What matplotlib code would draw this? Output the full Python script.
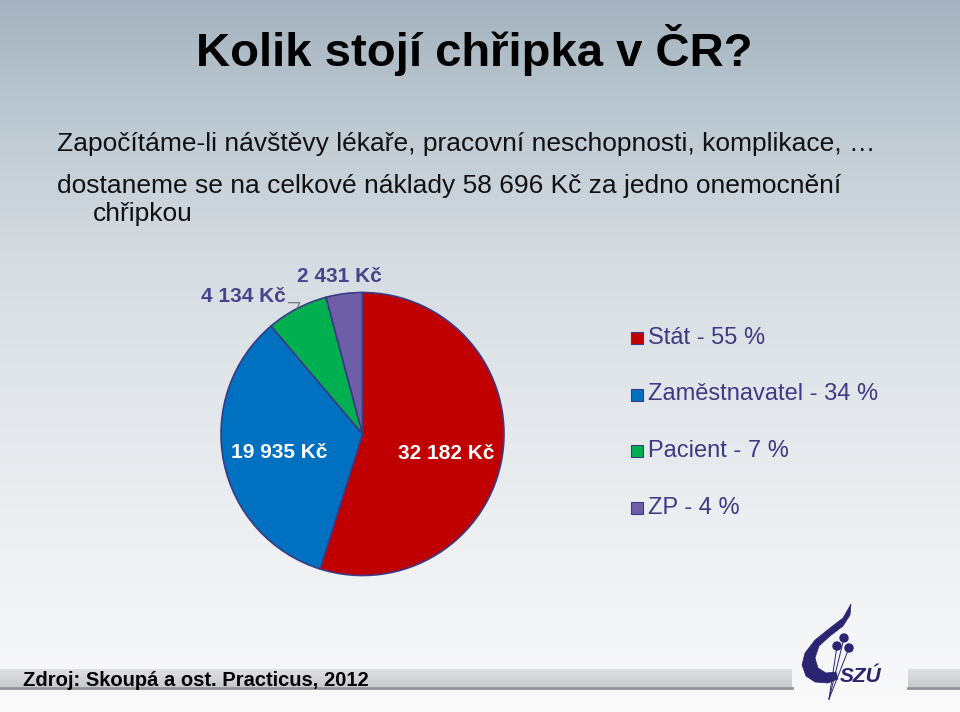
import numpy as np
import matplotlib
matplotlib.use("Agg")
import matplotlib.pyplot as plt
from matplotlib.patches import Rectangle, Circle, Polygon

plt.rcParams['font.family'] = ['Liberation Sans', 'DejaVu Sans']

# data
payers = ["Stát", "Zaměstnavatel", "Pacient", "ZP"]
costs = [32182, 19935, 4134, 2431]
colors = ["#C00000", "#0070C0", "#00B050", "#6E5EA8"]

title = "Kolik stojí chřipka v ČR?"
intro = ["Započítáme-li návštěvy lékaře, pracovní neschopnosti, komplikace, …",
         "dostaneme se na celkové náklady 58 696 Kč za jedno onemocnění",
         "chřipkou"]
source = "Zdroj: Skoupá a ost. Practicus, 2012"

W, H = 960, 712
navy = "#3C3A84"

fig = plt.figure(figsize=(9.6, 7.12), dpi=100)

# background axes in pixel coordinates
bg = fig.add_axes([0, 0, 1, 1])
stops_y = [0, 120, 250, 400, 550, 712]
stops_c = [(164, 179, 191), (189, 201, 210), (212, 219, 225),
           (227, 231, 235), (238, 240, 242), (250, 250, 251)]
ys = np.arange(H)
grad = np.zeros((H, 1, 3))
for c in range(3):
    grad[:, 0, c] = np.interp(ys, stops_y, [s[c] for s in stops_c]) / 255
bg.imshow(grad, extent=(0, W, H, 0), aspect='auto', zorder=0)

# grey band at the bottom
band = np.zeros((18, 1, 3))
for c, (a, b) in enumerate([(222, 200), (224, 203), (227, 206)]):
    band[:, 0, c] = np.linspace(a, b, 18) / 255
for x0, x1 in [(0, 792), (908, W)]:
    bg.imshow(band, extent=(x0, x1, 687, 669), aspect='auto', zorder=1)
    bg.plot([x0, x1], [688, 688], color="#8F9194", lw=2, zorder=2)
bg.set_xlim(0, W)
bg.set_ylim(H, 0)
bg.axis('off')

# texts
bg.text(474, 66, title, fontsize=34, fontweight='bold', ha='center',
        va='baseline', color='black')
bg.text(57, 151, intro[0], fontsize=19, va='baseline', color='#111111')
bg.text(57, 193, intro[1], fontsize=19, va='baseline', color='#111111')
bg.text(93, 221, intro[2], fontsize=19, va='baseline', color='#111111')
bg.text(23, 686, source, fontsize=14.5, fontweight='bold', va='baseline',
        color='black', zorder=3)

# legend
total = sum(costs)
for i, (name, val, col) in enumerate(zip(payers, costs, colors)):
    y = 338 + i * 56.5
    bg.add_patch(Rectangle((631, y - 6), 12, 12, facecolor=col,
                           edgecolor=navy, lw=0.8, zorder=3))
    bg.text(648, y, f"{name} - {round(val / total * 100)} %", fontsize=17,
            va='center', color=navy)

# SZU logo
logo = "#2B2470"
flame = [(851, 604), (843, 618), (830, 628), (815, 640), (805, 653),
         (802, 665), (806, 676), (815, 682), (828, 683), (838, 679),
         (836, 672), (826, 673), (818, 668), (815, 658), (819, 646),
         (830, 636), (843, 626), (850, 615)]
bg.add_patch(Polygon(flame, closed=True, facecolor=logo, edgecolor=logo,
                     lw=0.5, zorder=4))
for cx, cy in [(844, 638), (837, 646), (849, 648)]:
    bg.plot([829, cx], [699, cy], color=logo, lw=0.7, zorder=4)
    bg.add_patch(Circle((cx, cy), 4, color=logo, zorder=5))
bg.text(861, 676, "SZÚ", fontsize=15, fontweight='bold', style='italic',
        ha='center', va='center', color=logo, zorder=5)

# pie
cx, cy, r = 362.5, 434, 141.5
lim = 1.5
side = 2 * lim * r
pax = fig.add_axes([(cx - side / 2) / W, (H - cy - side / 2) / H, side / W, side / H])
wedges, _ = pax.pie(costs, colors=colors, startangle=90, counterclock=False,
                    wedgeprops=dict(edgecolor=navy, linewidth=1.2))
pax.set_xlim(-lim, lim)
pax.set_ylim(-lim, lim)
pax.axis('off')


def kc(v):
    return f"{v:,}".replace(",", " ") + " Kč"


mids = [np.deg2rad((w.theta1 + w.theta2) / 2) for w in wedges]
# big slices: labels inside
for i in (0, 1):
    pax.text(0.6 * np.cos(mids[i]), 0.6 * np.sin(mids[i]) - 0.05 + 0.04 * i, kc(costs[i]),
             ha='center', va='center', fontsize=15, fontweight='bold', color='white')
# small slices: labels outside
pax.annotate(kc(costs[2]), xy=(np.cos(mids[2]), np.sin(mids[2])),
             xytext=(-0.845, 0.975), ha='center', va='center', fontsize=15,
             fontweight='bold', color="#46458C",
             arrowprops=dict(arrowstyle='-', color='#6B6B6B', lw=0.8,
                             shrinkA=0, shrinkB=0, relpos=(1.0, 0.15),
                             connectionstyle='angle,angleA=0,angleB=65,rad=0'))
pax.text(-0.16, 1.11, kc(costs[3]), ha='center', va='center', fontsize=15,
         fontweight='bold', color="#46458C")

fig.savefig("out.png", dpi=100)
